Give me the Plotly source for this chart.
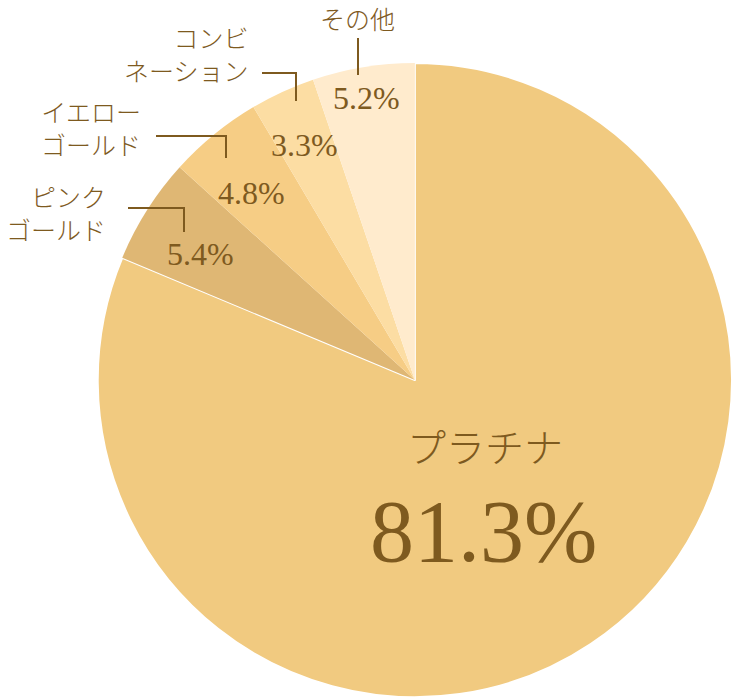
import plotly.graph_objects as go

# ---- data ----
categories = ["プラチナ", "ピンクゴールド", "イエローゴールド", "コンビネーション", "その他"]
values = [81.3, 5.4, 4.8, 3.3, 5.2]
label_lines = [["プラチナ"], ["ピンク", "ゴールド"], ["イエロー", "ゴールド"], ["コンビ", "ネーション"], ["その他"]]
colors = ["#F1CA80", "#DFB774", "#F6CD85", "#FCDDA3", "#FFEBCD"]

W, H = 732, 698
TXT = "#7E5A1F"
FONT = "Liberation Serif, 'Noto Sans CJK JP', serif"
JFONT = "'Noto Sans CJK JP', serif"

def px(x, y):
    return x / W, 1 - y / H

fig = go.Figure(go.Pie(
    labels=categories,
    values=values,
    sort=False,
    direction="clockwise",
    rotation=0,
    marker=dict(colors=colors, line=dict(color="white", width=[2, 0, 0, 0, 0])),
    textinfo="none",
    hoverinfo="label+percent",
    showlegend=False,
    domain=dict(x=[0.1335, 1.0], y=[0.0, 0.911]),
))

annotations = []
label_pos = {1: (108, 213, "right"), 2: (143, 128, "right"), 3: (251, 54, "right"), 4: (357, 18, "center")}
pct_pos = {1: (200, 254), 2: (251, 193), 3: (304, 145), 4: (367, 98)}

def add_text(xp, yp, text, size, family, anchor="center", weight="normal"):
    x, y = px(xp, yp)
    annotations.append(dict(x=x, y=y, xref="paper", yref="paper", text=text,
                            xanchor=anchor, yanchor="middle", align="right" if anchor == "right" else "center",
                            showarrow=False,
                            font=dict(size=size, color=TXT, family=family, weight=weight)))

for i, lines in enumerate(label_lines):
    if i == 0:
        add_text(485, 445, lines[0], 39, JFONT, weight=300)
        add_text(483, 531, f"{values[0]}%", 88, FONT)
        continue
    lx, ly, anchor = label_pos[i]
    add_text(lx, ly, "<br>".join(lines), 25, JFONT, anchor=anchor, weight=300)
    add_text(*pct_pos[i], f"{values[i]}%", 32, FONT)

leaders = [
    [(358, 38), (358, 75)],
    [(262, 73), (296, 73), (296, 101)],
    [(156, 136), (226, 136), (226, 158)],
    [(128, 208), (184, 208), (184, 232)],
]
shapes = []
for pts in leaders:
    path = ""
    for k, (lx, ly) in enumerate(pts):
        x, y = px(lx, ly)
        path += ("M" if k == 0 else "L") + f"{x},{y} "
    shapes.append(dict(type="path", xref="paper", yref="paper", path=path.strip(),
                       line=dict(color=TXT, width=2)))

fig.update_layout(
    width=W, height=H,
    margin=dict(l=0, r=0, t=0, b=0),
    paper_bgcolor="white", plot_bgcolor="white",
    annotations=annotations, shapes=shapes,
)
fig.write_html("out.html", config={"displayModeBar": False},
               post_script="document.body.style.margin='0';document.body.style.overflow='hidden';")
